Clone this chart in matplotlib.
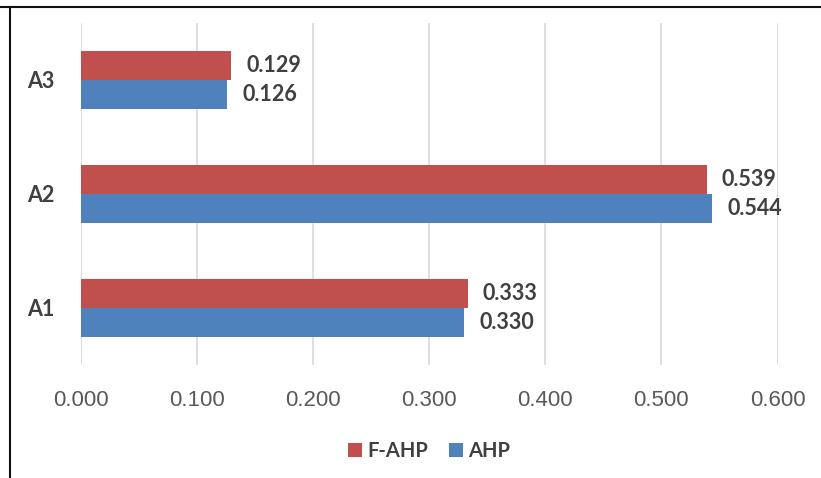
import matplotlib
matplotlib.use("Agg")
import matplotlib.pyplot as plt
from matplotlib import font_manager
from matplotlib.lines import Line2D
import numpy as np

categories = ["A1", "A2", "A3"]
f_ahp = [0.333, 0.539, 0.129]
ahp = [0.330, 0.544, 0.126]
x_ticks = [0.0, 0.1, 0.2, 0.3, 0.4, 0.5, 0.6]
x_tick_labels = ["0.000", "0.100", "0.200", "0.300", "0.400", "0.500", "0.600"]

installed = {f.name for f in font_manager.fontManager.ttflist}
narrow = "Liberation Sans Narrow" if "Liberation Sans Narrow" in installed else "Liberation Sans"
bold_font = "Lato" if "Lato" in installed else "DejaVu Sans"

RED = "#C0504D"
BLUE = "#4F81BD"
GRID = "#D9D9D9"
TEXT = "#404040"
TICK = "#595959"

fig = plt.figure(figsize=(8.21, 4.78), dpi=100)
ax = fig.add_axes([81 / 821, 1 - 365 / 478, (777.5 - 81) / 821, (365 - 23) / 478])

y = np.arange(len(categories))
h = 0.255
ax.barh(y + h / 2, f_ahp, height=h, color=RED, label="F-AHP", zorder=3)
ax.barh(y - h / 2, ahp, height=h, color=BLUE, label="AHP", zorder=3)

label_font = dict(fontsize=15.5, fontweight="bold", color=TEXT,
                  family=[bold_font, "DejaVu Sans"])
for yi, v in zip(y + h / 2, f_ahp):
    ax.annotate(f"{v:.3f}", (v, yi), xytext=(11, 0), textcoords="offset points",
                va="center", ha="left", **label_font)
for yi, v in zip(y - h / 2, ahp):
    ax.annotate(f"{v:.3f}", (v, yi), xytext=(11, 0), textcoords="offset points",
                va="center", ha="left", **label_font)

ax.set_xlim(0, 0.6)
ax.set_ylim(-0.5, 2.5)
ax.set_xticks(x_ticks)
ax.set_xticklabels(x_tick_labels, fontsize=16, color=TICK, family=[narrow, "DejaVu Sans"])
ax.set_yticks(y)
ax.set_yticklabels(categories, fontsize=15.5, fontweight="bold", color=TEXT,
                   family=[bold_font, "DejaVu Sans"])
ax.tick_params(axis="x", length=0, pad=18)
ax.tick_params(axis="y", length=0, pad=19)
ax.grid(axis="x", color=GRID, linewidth=1.2, zorder=0)
for s in ax.spines.values():
    s.set_visible(False)

fig.legend(loc="center", bbox_to_anchor=(429 / 821, 1 - 451 / 478), ncol=2,
           frameon=False, handlelength=0.7, handleheight=0.7, handletextpad=0.25,
           columnspacing=1.0,
           prop={"family": [bold_font, "DejaVu Sans"], "weight": "bold", "size": 14.5},
           labelcolor=TEXT)

# frame lines along the top and left edges
fig.add_artist(Line2D([0, 1], [1 - 7 / 478, 1 - 7 / 478], transform=fig.transFigure,
                      color="#111111", linewidth=1.5))
fig.add_artist(Line2D([10 / 821, 10 / 821], [0, 1 - 7 / 478], transform=fig.transFigure,
                      color="#111111", linewidth=1.5))

fig.savefig("out.png", dpi=100, facecolor="white")
